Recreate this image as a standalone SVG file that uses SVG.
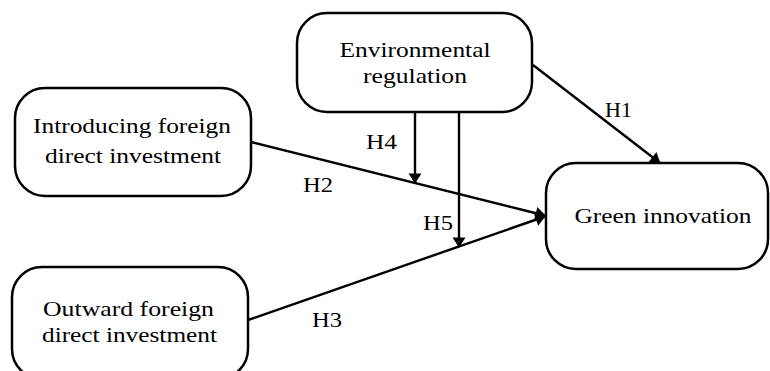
<svg xmlns="http://www.w3.org/2000/svg" width="770" height="371" viewBox="0 0 770 371">
<style>
.box{fill:#fff;stroke:#000;stroke-width:2.5}
.t{font-family:"Liberation Serif","Times New Roman",serif;font-size:21px;fill:#000;text-anchor:middle}
.h{font-size:21.5px}
.c{stroke:#000;stroke-width:2.4;fill:none;marker-end:url(#ah)}
</style>
<defs>
<marker id="ah" markerUnits="userSpaceOnUse" markerWidth="12" markerHeight="14" viewBox="0 0 10 14" refX="9.5" refY="7" orient="auto">
<path d="M0,0.5 L10,7 L0,13.5 Z" fill="#000"/>
</marker>
</defs>
<rect width="770" height="371" fill="#fff"/>
<g id="connectors">
<line class="c" x1="533" y1="65" x2="660" y2="163"/>
<line class="c" x1="251" y1="142" x2="545" y2="215.5"/>
<line class="c" x1="248" y1="320" x2="545" y2="216.5"/>
<line class="c" x1="415" y1="112" x2="415" y2="183"/>
<line class="c" x1="459" y1="112" x2="459" y2="247"/>
<text class="t h" x="618.5" y="117" textLength="27" lengthAdjust="spacingAndGlyphs">H1</text>
<text class="t h" x="381.5" y="149" textLength="31" lengthAdjust="spacingAndGlyphs">H4</text>
<text class="t h" x="318" y="192" textLength="30" lengthAdjust="spacingAndGlyphs">H2</text>
<text class="t h" x="438" y="230" textLength="30" lengthAdjust="spacingAndGlyphs">H5</text>
<text class="t h" x="327" y="327" textLength="30" lengthAdjust="spacingAndGlyphs">H3</text>
</g>
<g id="env">
<rect class="box" x="297" y="13" width="235" height="99" rx="30"/>
<text class="t" x="415" y="57" textLength="151" lengthAdjust="spacingAndGlyphs">Environmental</text>
<text class="t" x="415" y="83" textLength="104" lengthAdjust="spacingAndGlyphs">regulation</text>
</g>
<g id="ifdi">
<rect class="box" x="15" y="88" width="236" height="108" rx="30"/>
<text class="t" x="132" y="133" textLength="198" lengthAdjust="spacingAndGlyphs">Introducing foreign</text>
<text class="t" x="133" y="163" textLength="176" lengthAdjust="spacingAndGlyphs">direct investment</text>
</g>
<g id="ofdi">
<rect class="box" x="12" y="267" width="236" height="112" rx="30"/>
<text class="t" x="128.5" y="316" textLength="171" lengthAdjust="spacingAndGlyphs">Outward foreign</text>
<text class="t" x="129.5" y="342" textLength="175" lengthAdjust="spacingAndGlyphs">direct investment</text>
</g>
<g id="green">
<rect class="box" x="546" y="163" width="222" height="106" rx="30"/>
<text class="t" x="663" y="223" textLength="177" lengthAdjust="spacingAndGlyphs">Green innovation</text>
</g>
</svg>
